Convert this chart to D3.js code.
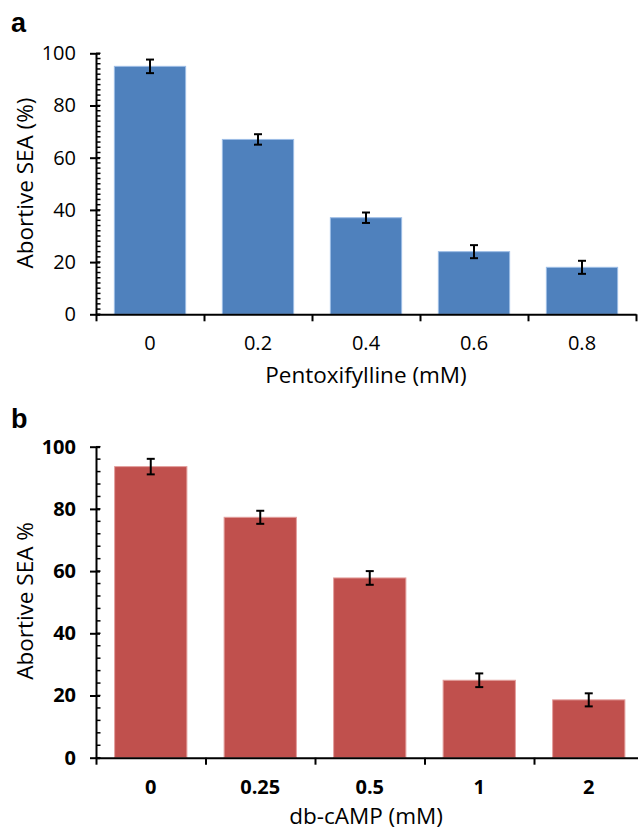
<!DOCTYPE html>
<html>
<head>
<meta charset="utf-8">
<script src="https://cdn.jsdelivr.net/npm/d3@7"></script>
<style>
  body { margin: 0; background: #fff; }
  svg { display: block; }
  text { font-family: "Open Sans", sans-serif; fill: #000; }
  .panel-tag { font-family: "Liberation Sans", Arial, sans-serif; font-weight: bold; font-size: 27px; }
</style>
</head>
<body>
<svg id="chart"></svg>
<script>
// panel a: pentoxifylline
const pentoxCategories = ['0', '0.2', '0.4', '0.6', '0.8'];
const pentoxValues = [95, 67, 37, 24, 18];
const pentoxErrors = [2.6, 2, 2, 2.5, 2.5];

// panel b: db-cAMP
const campCategories = ['0', '0.25', '0.5', '1', '2'];
const campValues = [93.6, 77.3, 57.8, 24.9, 18.6];
const campErrors = [2.5, 2.1, 2.2, 2.2, 2.1];

const yTickValues = [0, 20, 40, 60, 80, 100];

const width = 638;
const height = 830;

const svg = d3.select('#chart')
  .attr('width', width)
  .attr('height', height);

function drawPanel(opts) {
  const g = svg.append('g');

  const x = d3.scaleBand()
    .domain(opts.categories)
    .range([opts.left, opts.right])
    .padding(0);

  const y = d3.scaleLinear()
    .domain([0, 100])
    .range([opts.bottom, opts.top]);

  const barW = x.bandwidth() * 0.66;

  // bars
  g.selectAll('rect.bar')
    .data(opts.values)
    .join('rect')
    .attr('class', 'bar')
    .attr('x', (d, i) => x(opts.categories[i]) + (x.bandwidth() - barW) / 2)
    .attr('y', d => y(d))
    .attr('width', barW)
    .attr('height', d => y(0) - y(d))
    .style('fill', opts.fill)
    .style('stroke', opts.edge)
    .style('stroke-width', 1);

  // error bars
  const eb = g.selectAll('g.err')
    .data(opts.values)
    .join('g')
    .attr('class', 'err')
    .attr('transform', (d, i) => `translate(${x(opts.categories[i]) + x.bandwidth() / 2},0)`);

  eb.append('line')
    .attr('y1', (d, i) => y(d + opts.errors[i]))
    .attr('y2', (d, i) => y(d - opts.errors[i]))
    .style('stroke', '#000').style('stroke-width', 2);
  eb.append('line')
    .attr('x1', -4).attr('x2', 4)
    .attr('y1', (d, i) => y(d + opts.errors[i]))
    .attr('y2', (d, i) => y(d + opts.errors[i]))
    .style('stroke', '#000').style('stroke-width', 2);
  eb.append('line')
    .attr('x1', -4).attr('x2', 4)
    .attr('y1', (d, i) => y(d - opts.errors[i]))
    .attr('y2', (d, i) => y(d - opts.errors[i]))
    .style('stroke', '#000').style('stroke-width', 2);

  // minor y ticks (inside)
  g.selectAll('line.minor')
    .data(d3.range(0, 101, opts.minorStep))
    .join('line')
    .attr('x1', opts.left).attr('x2', opts.left + 4.5)
    .attr('y1', d => y(d)).attr('y2', d => y(d))
    .style('stroke', '#000').style('stroke-width', 1.5);

  // y axis
  const yAxis = g.append('g')
    .attr('transform', `translate(${opts.left},0)`)
    .call(d3.axisLeft(y).tickValues(yTickValues).tickSize(6).tickPadding(14).tickSizeOuter(0));
  yAxis.select('.domain').style('stroke-width', 2);
  yAxis.selectAll('.tick line').attr('x2', 4).attr('x1', -6).style('stroke-width', 2);
  yAxis.selectAll('.tick text')
    .style('font-size', '20px')
    .style('font-weight', opts.tickWeight)
    .style('font-family', '"Open Sans", sans-serif');

  // x axis: boundary ticks
  const xb = d3.scaleLinear().domain([0, opts.categories.length]).range([opts.left, opts.right]);
  const xAxis = g.append('g')
    .attr('transform', `translate(0,${opts.bottom})`)
    .call(d3.axisBottom(xb).ticks(opts.categories.length).tickSize(7).tickFormat('').tickSizeOuter(0));
  xAxis.select('.domain').style('stroke-width', 2);
  xAxis.selectAll('.tick line').style('stroke-width', 2);

  // category labels
  g.selectAll('text.cat')
    .data(opts.categories)
    .join('text')
    .attr('class', 'cat')
    .attr('x', d => x(d) + x.bandwidth() / 2)
    .attr('y', opts.bottom + 36)
    .attr('text-anchor', 'middle')
    .style('font-size', '20px')
    .style('font-weight', opts.tickWeight)
    .text(d => d);

  // axis titles
  g.append('text')
    .attr('x', (opts.left + Math.min(opts.right, 636)) / 2)
    .attr('y', opts.bottom + opts.titleDy)
    .attr('text-anchor', 'middle')
    .style('font-size', '22.5px')
    .text(opts.xTitle);

  g.append('text')
    .attr('transform', `translate(33,${opts.yTitleCenter}) rotate(-90)`)
    .attr('text-anchor', 'middle')
    .style('font-size', '22.5px')
    .text(opts.yTitle);

  g.append('text')
    .attr('class', 'panel-tag')
    .attr('x', 11)
    .attr('y', opts.tagY)
    .text(opts.tag);
}

drawPanel({
  tag: 'a', tagY: 32,
  categories: pentoxCategories, values: pentoxValues, errors: pentoxErrors,
  left: 96, right: 636, top: 53.3, bottom: 314.3,
  minorStep: 2, tickWeight: 'normal',
  fill: '#4f81bd', edge: '#9dbde6',
  xTitle: 'Pentoxifylline (mM)', titleDy: 69,
  yTitle: 'Abortive SEA (%)', yTitleCenter: 183
});

drawPanel({
  tag: 'b', tagY: 428,
  categories: campCategories, values: campValues, errors: campErrors,
  left: 96, right: 643.5, top: 446.7, bottom: 757.7,
  minorStep: 4, tickWeight: 'bold',
  fill: '#c0504d', edge: '#e39f9d',
  xTitle: 'db-cAMP (mM)', titleDy: 66,
  yTitle: 'Abortive SEA %', yTitleCenter: 601
});
</script>
</body>
</html>
